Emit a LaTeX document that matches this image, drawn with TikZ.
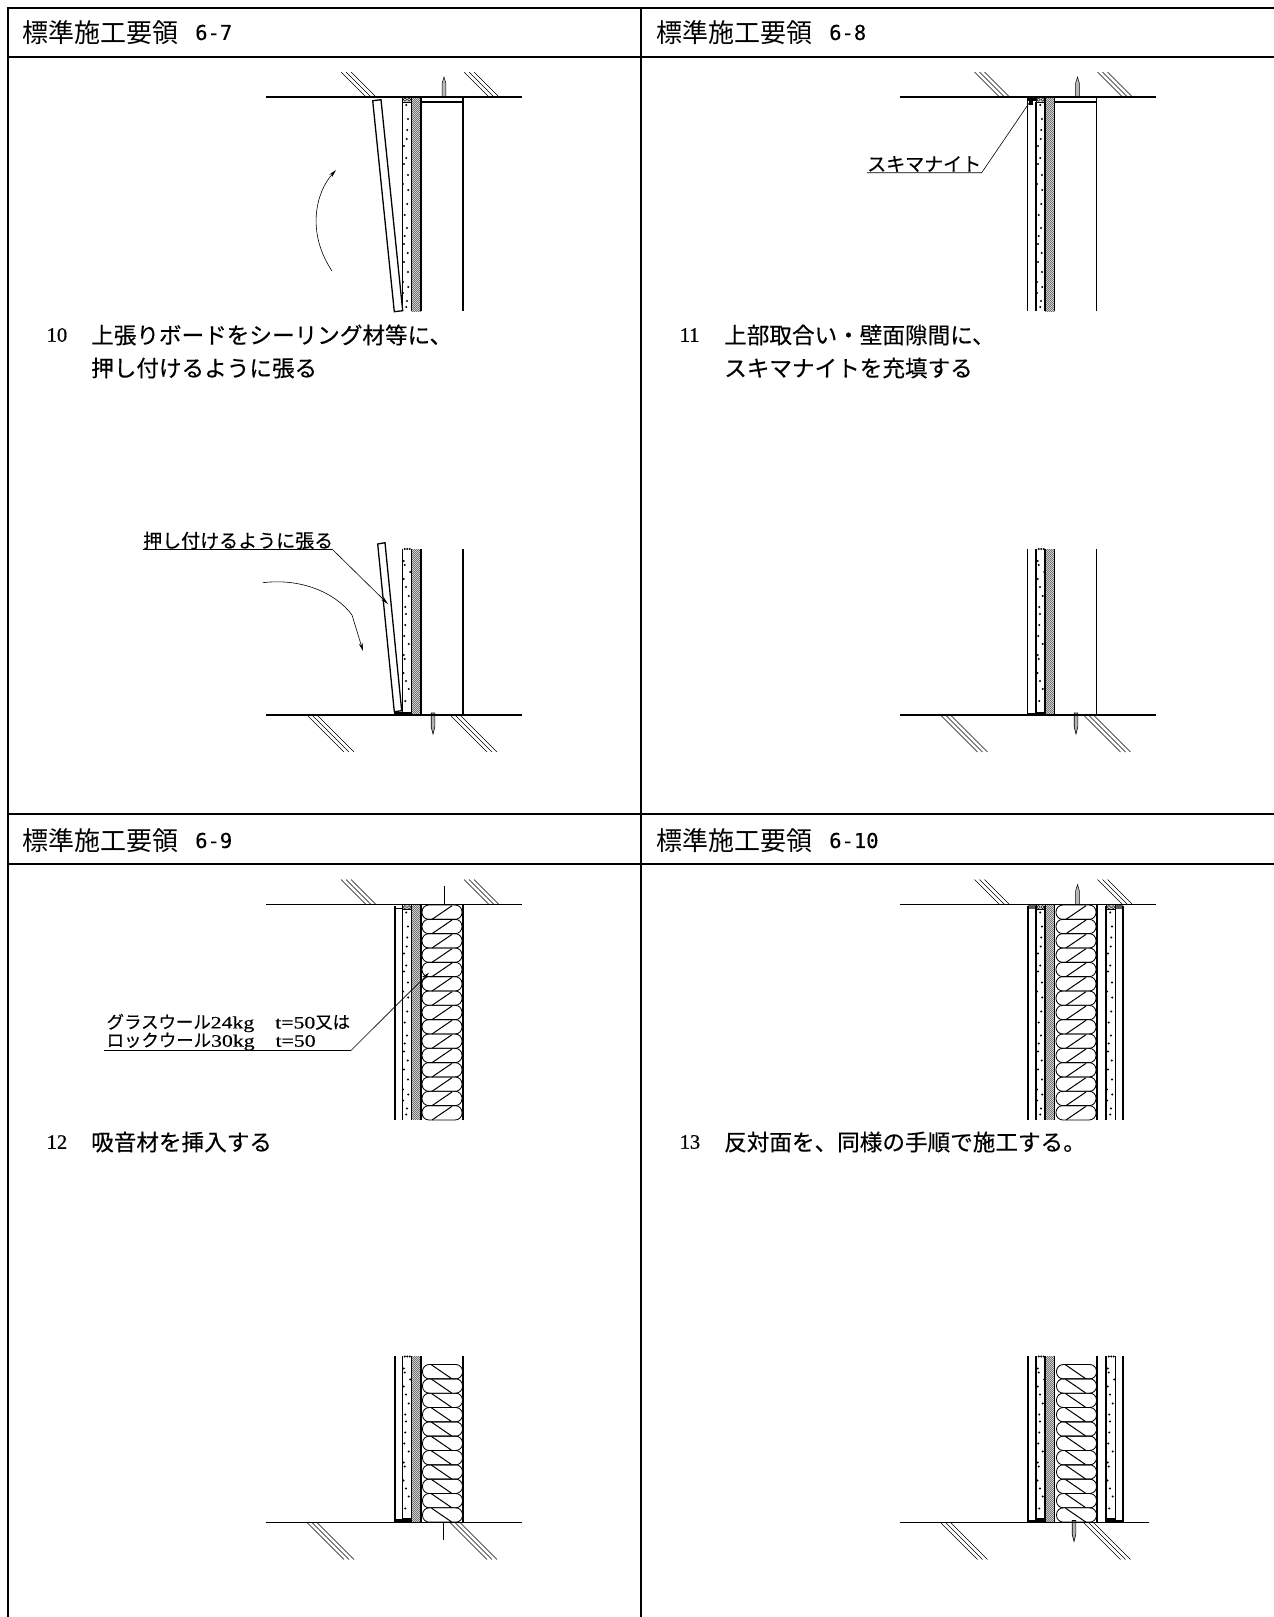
\documentclass[tikz,border=0pt]{standalone}
\usepackage{fontspec}
\setmainfont{Liberation Serif}
\newfontfamily\jp{Noto Sans CJK JP}
\newfontfamily\jpb[FakeBold=0.35]{Noto Sans CJK JP}
\newfontfamily\monof[FakeBold=0.3]{DejaVu Sans Mono}
\newfontfamily\numf[FakeBold=0.6]{Liberation Serif}
\newfontfamily\latl[FakeStretch=1.25,FakeBold=0.4]{Liberation Serif}
\usetikzlibrary{arrows.meta}
\tikzset{
  head/.style={anchor=west,inner sep=0pt,font=\jp\fontsize{26}{26}\selectfont},
  headnum/.style={anchor=west,inner sep=0pt,font=\monof\fontsize{20.5}{24}\selectfont},
  body/.style={anchor=west,inner sep=0pt,font=\jpb\fontsize{22.6}{24}\selectfont},
  num/.style={anchor=west,inner sep=0pt,font=\numf\fontsize{20.5}{24}\selectfont},
  lab/.style={anchor=west,inner sep=0pt,font=\jpb\fontsize{19}{20}\selectfont},
  labsmall/.style={anchor=west,inner sep=0pt,font=\jpb\fontsize{17.4}{20}\selectfont},
  frameline/.style={line width=2pt},
  floorline/.style={line width=1.4pt},
  hatchline/.style={line width=0.55pt},
  wallline/.style={line width=1.2pt},
  thickwall/.style={line width=1.7pt},
  leader/.style={line width=0.6pt},
  arrowline/.style={line width=0.6pt,-{Stealth[length=8pt,width=3.8pt]}},
  wool/.style={line width=0.85pt,rounded corners=6.8pt},
  woolline/.style={line width=1pt},
  boardface/.style={draw,line width=1.3pt,fill=white}
}
% ground hatching, three parallel lines ending at the floor line
\newcommand{\hatchUp}[2]{\foreach \k in {0,5,10}{\draw[hatchline] (#1+\k,#2-25) -- (#1+\k+25,#2);}}
\newcommand{\hatchDown}[2]{\foreach \k in {0,5,10}{\draw[hatchline] (#1+\k,#2) -- (#1+\k+37,#2+37);}}
% diagonal shaded strip
\newcommand{\strip}[3]{%
  \begin{scope}
    \clip (#1,#2) rectangle (#1+9.3,#3);
    \pgfmathtruncatemacro{\nn}{(#3-#2+12)/2}
    \foreach \i in {0,...,\nn}{\draw[line width=0.5pt,black!75] (#1-1,#2+2*\i) -- (#1+11,#2+2*\i-12);}
  \end{scope}
}
% speckled gypsum board, dots listed from the floor line (upper drawings)
\newcommand{\dotsUpper}[2]{\foreach \a/\b in {4.3/8,6/22,5.3/33,4.7/42,2/49,4.3/61,2/67,6/78,1/87,6.3/93,5.3/107,2.7/118,5/131,2.7/139,2/147,5.7/156,2/165,6/175,1/185,6.3/190,1/196,5/204,4.3/210}{\fill (#1+\a,#2+\b) circle (1.1pt);}}
% the same from the floor line upward (lower drawings)
\newcommand{\dotsLower}[2]{\foreach \a/\b in {2.7/166,5.3/166,7.7/166,1.7/154,2.7/150,8.3/143,1.7/136,4/128,6.7/119,3.3/108,4/101,3.3/90,2.3/79,6.7/71,1.7/60,2.7/56,1.5/42,4/34,6.7/26,3.3/14}{\fill (#1+\a,#2-\b) circle (1.1pt);}}
% small sealing patch at the head of a board
\newcommand{\seal}[2]{\draw[line width=0.6pt,fill=gray!40] (#1,#2) rectangle (#1+9,#2+5);
  \foreach \a in {2.4,6.6}{\draw[line width=0.5pt,fill=white] (#1+\a,#2+2.6) circle (1.6pt);}}
% wool bands
\newcommand{\woolUp}[3]{\foreach \i in {1,...,#3}{
  \draw[wool] (#1,#2+14.33*\i-14.33) rectangle (#1+40,#2+14.33*\i);
  \draw[woolline] (#1+10,#2+14.33*\i) -- (#1+30,#2+14.33*\i-13.6);}}
\newcommand{\woolDown}[3]{\foreach \i in {1,...,#3}{
  \draw[wool] (#1,#2+14.33*\i-14.33) rectangle (#1+40,#2+14.33*\i);
  \draw[woolline] (#1+9,#2+14.33*\i-14) -- (#1+29,#2+14.33*\i-0.3);}}
% nail: point away from the floor
\newcommand{\nailUp}[2]{\draw[line width=0.5pt,fill=gray!55] (#1-1.8,#2) -- (#1-1.8,#2-14) -- (#1,#2-20) -- (#1+1.8,#2-14) -- (#1+1.8,#2) -- cycle;}
\newcommand{\nailDown}[2]{\draw[line width=0.6pt,fill=gray!60] (#1-1.8,#2-2) -- (#1-1.8,#2+12) -- (#1,#2+19) -- (#1+1.8,#2+12) -- (#1+1.8,#2-2) -- cycle;}

\begin{document}
\begin{tikzpicture}[x=1pt,y=-1pt]
\useasboundingbox (0,0) rectangle (1274,1617);
\fill[white] (0,0) rectangle (1274,1617);

% ---------- frame
\draw[frameline] (7.5,1617) -- (7.5,8) -- (1274,8);
\draw[frameline] (7.5,56.7) -- (1274,56.7);
\draw[frameline] (7.5,814.3) -- (1274,814.3);
\draw[frameline] (7.5,864.3) -- (1274,864.3);
\draw[frameline] (641,8) -- (641,1617);

% ---------- headings
\node[head] (h1) at (22,32.5) {標準施工要領};
\node[headnum] (h1n) at (195,32.5) {6-7};
\node[head] (h2) at (656,32.5) {標準施工要領};
\node[headnum] (h2n) at (829,32.5) {6-8};
\node[head] (h3) at (22,840.5) {標準施工要領};
\node[headnum] (h3n) at (195,840.5) {6-9};
\node[head] (h4) at (656,840.5) {標準施工要領};
\node[headnum] (h4n) at (829,840.5) {6-10};

% ---------- captions
\node[num] (n10) at (46.5,335) {10};
\node[body] (t10a) at (91,335) {上張りボードをシーリング材等に、};
\node[body] (t10b) at (91,368) {押し付けるように張る};
\node[num] (n11) at (679.5,335) {11};
\node[body] (t11a) at (724,335) {上部取合い・壁面隙間に、};
\node[body] (t11b) at (724,368) {スキマナイトを充填する};
\node[num] (n12) at (46.5,1142) {12};
\node[body] (t12) at (91,1142) {吸音材を挿入する};
\node[num] (n13) at (679.5,1142) {13};
\node[body] (t13) at (724,1142) {反対面を、同様の手順で施工する。};

% ========== panel A upper
\hatchUp{341}{97}\hatchUp{464}{97}
\nailUp{444}{97}
\strip{411.7}{97}{311}
\dotsUpper{402}{97}
\seal{402.5}{97}
\draw[wallline] (402.5,102) -- (402.5,311);
\draw[wallline] (411.5,97) -- (411.5,311);
\draw[thickwall] (421,97) -- (421,311);
\draw[wallline] (421,102) -- (463,102);
\draw[wallline] (463,97) -- (463,311);
\draw[boardface] (372.7,100.7) -- (381,99.7) -- (402.7,310.7) -- (394.3,311.7) -- cycle;
\draw[floorline] (266,97) -- (522,97);
\coordinate (a1) at (332,271);
\coordinate (a2) at (336,170);
\draw[arrowline] (a1) .. controls (306,232) and (316,192) .. (a2);

% ========== panel A lower
\hatchDown{307}{715}\hatchDown{450}{715}
\nailDown{433}{715}
\strip{411.7}{549}{715}
\dotsLower{402}{715}
\draw[wallline] (402.5,549) -- (402.5,715);
\draw[wallline] (411.5,549) -- (411.5,715);
\draw[thickwall] (421,549) -- (421,715);
\draw[wallline] (463,549) -- (463,715);
\fill (394.3,711.5) rectangle (412,715);
\draw[boardface] (377.7,544) -- (385,542.7) -- (401.7,710.7) -- (394.3,711.7) -- cycle;
\draw[floorline] (266,715) -- (522,715);
\coordinate (b1) at (262.7,582.7);
\coordinate (b2) at (363,651);
\draw[arrowline] (b1) .. controls (300,578) and (335,592) .. (352,615) -- (b2);
\node[lab] (lA) at (143,540.5) {押し付けるように張る};
\coordinate (lA0) at (143,549);
\coordinate (lA1) at (332,549);
\coordinate (lA2) at (388,604);
\draw[leader] (lA0) -- (lA1);
\draw[arrowline] (lA1) -- (lA2);

% ========== panel B upper
\hatchUp{974.5}{97}\hatchUp{1097.5}{97}
\nailUp{1077.5}{97}
\strip{1045.2}{97}{311}
\dotsUpper{1036}{97}
\seal{1036}{97}
\fill (1028,97) rectangle (1036,101);
\fill (1028.5,97) rectangle (1033,105);
\draw[wallline] (1027.8,97) -- (1027.8,311);
\draw[wallline] (1036,102) -- (1036,311);
\draw[wallline] (1045,97) -- (1045,311);
\draw[thickwall] (1054.6,97) -- (1054.6,311);
\draw[wallline] (1054.6,102) -- (1096.6,102);
\draw[wallline] (1096.6,97) -- (1096.6,311);
\draw[floorline] (899.5,97) -- (1155.5,97);
\node[lab] (lB) at (867,164) {スキマナイト};
\coordinate (lB0) at (867,172.7);
\coordinate (lB1) at (981.7,172.7);
\coordinate (lB2) at (1030,101.7);
\draw[leader] (lB0) -- (lB1) -- (lB2);

% ========== panel B lower
\hatchDown{940.5}{715}\hatchDown{1083.5}{715}
\nailDown{1076}{715}
\strip{1045.2}{549}{715}
\dotsLower{1036}{715}
\fill (1028,713) rectangle (1045,715);
\fill (1036,711.5) rectangle (1045,715);
\draw[wallline] (1027.8,549) -- (1027.8,715);
\draw[wallline] (1036,549) -- (1036,715);
\draw[wallline] (1045,549) -- (1045,715);
\draw[thickwall] (1054.6,549) -- (1054.6,715);
\draw[wallline] (1096.6,549) -- (1096.6,715);
\draw[floorline] (899.5,715) -- (1155.5,715);

% ========== panel C upper
\hatchUp{341}{904.5}\hatchUp{464}{904.5}
\draw[line width=0.9pt] (444,886) -- (444,904);
\strip{411.7}{904.5}{1119.5}
\dotsUpper{402}{904.5}
\seal{402.5}{904.5}
\draw[thickwall] (395,906) -- (395,1119.5);
\draw[wallline] (395,908.5) -- (402.5,908.5);
\draw[wallline] (402.5,906) -- (402.5,1119.5);
\draw[wallline] (411.5,906) -- (411.5,1119.5);
\draw[thickwall] (421,904.5) -- (421,1119.5);
\draw[thickwall] (463,904.5) -- (463,1119.5);
\woolUp{422}{905}{15}
\draw[floorline] (266,904.5) -- (522,904.5);
\node[labsmall] (lC1) at (106.5,1023) {グラスウール{\latl 24kg}\hspace{21pt}{\latl t=50}又は};
\node[labsmall] (lC2) at (106.5,1041.5) {ロックウール{\latl 30kg}\hspace{21pt}{\latl t=50}};
\coordinate (lC0) at (104,1050.5);
\coordinate (lC3) at (351,1050.5);
\coordinate (lC4) at (429,972.7);
\draw[leader] (lC0) -- (lC3);
\draw[arrowline] (lC3) -- (lC4);

% ========== panel C lower
\hatchDown{307}{1522.5}\hatchDown{450}{1522.5}
\strip{411.7}{1356}{1522.5}
\dotsLower{402}{1522.5}
\fill (395,1519) rectangle (412,1522.5);
\fill (402,1517.5) rectangle (411.5,1522.5);
\draw[thickwall] (395,1356) -- (395,1522.5);
\draw[wallline] (402.5,1356) -- (402.5,1522.5);
\draw[wallline] (411.5,1356) -- (411.5,1522.5);
\draw[thickwall] (421,1356) -- (421,1522.5);
\draw[thickwall] (463,1356) -- (463,1522.5);
\woolDown{422.5}{1364.5}{11}
\draw[line width=1pt] (443.5,1522) -- (443.5,1540);
\draw[floorline] (266,1522.5) -- (522,1522.5);

% ========== panel D upper
\hatchUp{974.5}{904.5}\hatchUp{1097.5}{904.5}
\nailUp{1077.5}{904.5}
\strip{1045.2}{904.5}{1119.5}
\dotsUpper{1036}{904.5}
\dotsUpper{1106}{904.5}
\seal{1036}{904.5}
\seal{1106.5}{904.5}
\fill[gray!70!black] (1028,904.5) rectangle (1036,908.5);
\fill[gray!70!black] (1115.5,904.5) rectangle (1123,908.5);
\draw[wallline] (1028,906) -- (1028,1119.5);
\draw[wallline] (1036,906) -- (1036,1119.5);
\draw[wallline] (1045,906) -- (1045,1119.5);
\draw[thickwall] (1054.6,904.5) -- (1054.6,1119.5);
\draw[thickwall] (1097,904.5) -- (1097,1119.5);
\draw[wallline] (1106,906) -- (1106,1119.5);
\draw[wallline] (1115.7,906) -- (1115.7,1119.5);
\draw[wallline] (1123,906) -- (1123,1119.5);
\woolUp{1056}{905}{15}
\draw[floorline] (899.5,904.5) -- (1155.5,904.5);

% ========== panel D lower
\hatchDown{940.5}{1522.5}\hatchDown{1083.5}{1522.5}
\nailDown{1074}{1522.5}
\strip{1045.2}{1356}{1522.5}
\dotsLower{1036}{1522.5}
\dotsLower{1106}{1522.5}
\fill (1028,1519.5) rectangle (1045,1522.5);
\fill (1036,1517.5) rectangle (1045,1522.5);
\fill (1106,1517.5) rectangle (1115.7,1522.5);
\fill (1106,1519.5) rectangle (1123,1522.5);
\draw[wallline] (1028,1356) -- (1028,1522.5);
\draw[wallline] (1036,1356) -- (1036,1522.5);
\draw[wallline] (1045,1356) -- (1045,1522.5);
\draw[thickwall] (1054.6,1356) -- (1054.6,1522.5);
\draw[thickwall] (1097,1356) -- (1097,1522.5);
\draw[wallline] (1106,1356) -- (1106,1522.5);
\draw[wallline] (1115.7,1356) -- (1115.7,1522.5);
\draw[wallline] (1123,1356) -- (1123,1522.5);
\woolDown{1056.5}{1364.5}{11}
\draw[floorline] (899.5,1522.5) -- (1149,1522.5);
\end{tikzpicture}
\end{document}
